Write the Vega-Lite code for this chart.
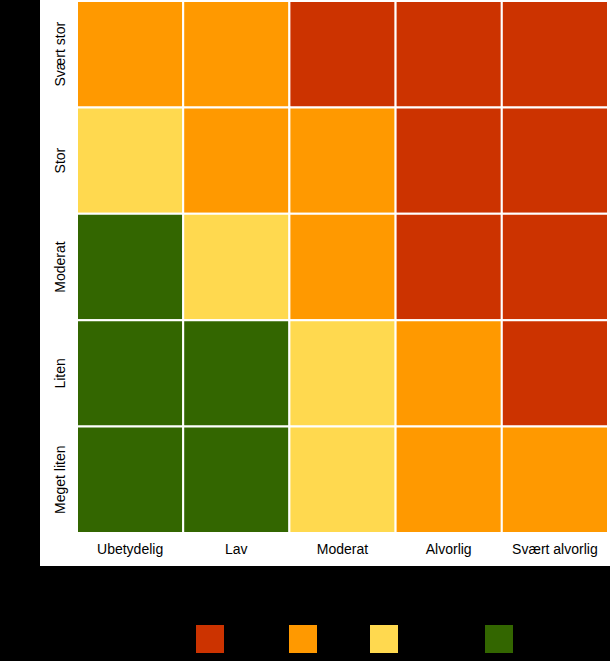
{
  "$schema": "https://vega.github.io/schema/vega-lite/v6.json",
  "width": 570,
  "height": 566,
  "autosize": {"type": "none"},
  "padding": {"left": 40, "top": 0, "right": 0, "bottom": 95},
  "background": "#000000",
  "config": {
    "view": {"fill": "#ffffff", "stroke": null},
    "font": "Liberation Sans",
    "axis": {"domain": false, "ticks": false, "grid": false, "labelColor": "#000000", "labelFontSize": 14, "titleColor": "#000000", "titleFontSize": 14, "titleFontWeight": "normal"},
    "legend": {"labelColor": "#000000", "labelFontSize": 12, "padding": 0}
  },
  "data": {
    "values": [
      {"sannsynlighet": "Svært stor", "konsekvens": "Ubetydelig", "risiko": "Middels"},
      {"sannsynlighet": "Svært stor", "konsekvens": "Lav", "risiko": "Middels"},
      {"sannsynlighet": "Svært stor", "konsekvens": "Moderat", "risiko": "Høy risiko"},
      {"sannsynlighet": "Svært stor", "konsekvens": "Alvorlig", "risiko": "Høy risiko"},
      {"sannsynlighet": "Svært stor", "konsekvens": "Svært alvorlig", "risiko": "Høy risiko"},
      {"sannsynlighet": "Stor", "konsekvens": "Ubetydelig", "risiko": "Moderat risiko"},
      {"sannsynlighet": "Stor", "konsekvens": "Lav", "risiko": "Middels"},
      {"sannsynlighet": "Stor", "konsekvens": "Moderat", "risiko": "Middels"},
      {"sannsynlighet": "Stor", "konsekvens": "Alvorlig", "risiko": "Høy risiko"},
      {"sannsynlighet": "Stor", "konsekvens": "Svært alvorlig", "risiko": "Høy risiko"},
      {"sannsynlighet": "Moderat", "konsekvens": "Ubetydelig", "risiko": "Lav"},
      {"sannsynlighet": "Moderat", "konsekvens": "Lav", "risiko": "Moderat risiko"},
      {"sannsynlighet": "Moderat", "konsekvens": "Moderat", "risiko": "Middels"},
      {"sannsynlighet": "Moderat", "konsekvens": "Alvorlig", "risiko": "Høy risiko"},
      {"sannsynlighet": "Moderat", "konsekvens": "Svært alvorlig", "risiko": "Høy risiko"},
      {"sannsynlighet": "Liten", "konsekvens": "Ubetydelig", "risiko": "Lav"},
      {"sannsynlighet": "Liten", "konsekvens": "Lav", "risiko": "Lav"},
      {"sannsynlighet": "Liten", "konsekvens": "Moderat", "risiko": "Moderat risiko"},
      {"sannsynlighet": "Liten", "konsekvens": "Alvorlig", "risiko": "Middels"},
      {"sannsynlighet": "Liten", "konsekvens": "Svært alvorlig", "risiko": "Høy risiko"},
      {"sannsynlighet": "Meget liten", "konsekvens": "Ubetydelig", "risiko": "Lav"},
      {"sannsynlighet": "Meget liten", "konsekvens": "Lav", "risiko": "Lav"},
      {"sannsynlighet": "Meget liten", "konsekvens": "Moderat", "risiko": "Moderat risiko"},
      {"sannsynlighet": "Meget liten", "konsekvens": "Alvorlig", "risiko": "Middels"},
      {"sannsynlighet": "Meget liten", "konsekvens": "Svært alvorlig", "risiko": "Middels"}
    ]
  },
  "mark": {"type": "rect", "stroke": "#ffffff", "strokeWidth": 2},
  "encoding": {
    "x": {
      "field": "konsekvens", "type": "nominal",
      "sort": ["Ubetydelig", "Lav", "Moderat", "Alvorlig", "Svært alvorlig"],
      "scale": {"range": [37, 568], "paddingInner": 0, "paddingOuter": 0},
      "axis": {"orient": "bottom", "offset": -34, "labelAngle": 0, "labelPadding": 10, "title": "Konsekvens", "titleY": 60}
    },
    "y": {
      "field": "sannsynlighet", "type": "nominal",
      "sort": ["Svært stor", "Stor", "Moderat", "Liten", "Meget liten"],
      "scale": {"range": [1, 533], "paddingInner": 0, "paddingOuter": 0},
      "axis": {"orient": "left", "offset": -37, "labelAngle": 270, "labelAlign": "center", "labelBaseline": "bottom", "labelPadding": 10, "title": "Sannsynlighet", "titleX": -57}
    },
    "color": {
      "field": "risiko", "type": "nominal",
      "scale": {
        "domain": ["Høy risiko", "Middels", "Moderat risiko", "Lav"],
        "range": ["#cc3300", "#ff9900", "#ffd94f", "#336600"]
      },
      "legend": {
        "orient": "none", "direction": "horizontal", "legendX": 156, "legendY": 625,
        "title": null, "symbolType": "square", "symbolSize": 784, "symbolStrokeWidth": 0,
        "symbolOpacity": 1, "labelOffset": 4, "columnPadding": 7
      }
    }
  }
}
